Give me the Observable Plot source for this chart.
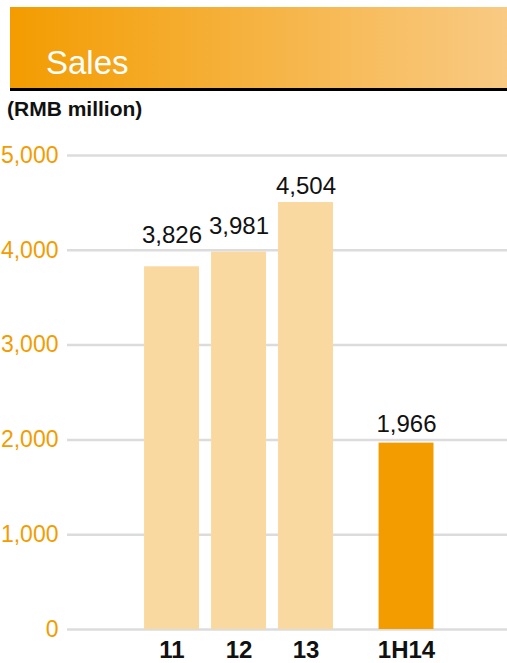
<!DOCTYPE html>
<html>
<head>
<meta charset="utf-8">
<script src="https://cdn.jsdelivr.net/npm/d3@7"></script>
<script src="https://cdn.jsdelivr.net/npm/@observablehq/plot@0.6"></script>
<style>
  html, body { margin: 0; padding: 0; background: #fff; }
  body { width: 507px; height: 663px; position: relative; overflow: hidden; font-family: "Liberation Sans", Arial, Helvetica, sans-serif; }
  #header { position: absolute; left: 10px; top: 7px; width: 497px; height: 81px;
    background: linear-gradient(to right, #f39c00, #f9ca84); border-bottom: 3px solid #000; }
  #title { position: absolute; left: 46px; top: 44px; font-size: 33px; color: #fff; line-height: normal; white-space: nowrap; }
  #unit { position: absolute; left: 7px; top: 97px; font-size: 21px; font-weight: bold; color: #111; line-height: normal; white-space: nowrap; }
  #chart { position: absolute; left: 0; top: 120px; }
  #chart svg { overflow: visible; }
</style>
</head>
<body>
<div id="header"></div>
<div id="title">Sales</div>
<div id="unit">(RMB million)</div>
<div id="chart"></div>
<script>
const categories = ["11", "12", "13", "1H14"];
const sales = [3826, 3981, 4504, 1966];
const yTicks = [0, 1000, 2000, 3000, 4000, 5000];
const highlight = "1H14";

// layout: a half-step gap separates the half-year bar from the full years
const positions = categories.map((c, i) => i + (i >= 3 ? 0.5 : 0));
const data = categories.map((c, i) => ({cat: c, value: sales[i], pos: positions[i]}));
const labelOf = new Map(positions.map((p, i) => [p, categories[i]]));
const labelDy = [-24, -18, -9, -11];
const halfWidth = 0.41;

const light = "#fad9a1";
const orange = "#f39c00";

const plot = Plot.plot({
  width: 507,
  height: 543,
  marginTop: 35,
  marginBottom: 34,
  marginLeft: 67,
  marginRight: 0,
  style: {fontFamily: "'Liberation Sans', Arial, Helvetica, sans-serif", background: "transparent", overflow: "visible"},
  x: {type: "linear", domain: [-1.56, 5.007], axis: null},
  y: {domain: [0, 5000], axis: null},
  color: {type: "identity"},
  marks: [
    Plot.ruleY(yTicks, {stroke: "#dcdcdc", strokeWidth: 2.5}),
    Plot.rectY(data, {
      x1: d => d.pos - halfWidth,
      x2: d => d.pos + halfWidth,
      y1: 0,
      y2: "value",
      fill: d => d.cat === highlight ? orange : light
    }),
    ...data.map((d, i) => Plot.text([d], {
      x: "pos", y: "value", text: v => d3.format(",")(v.value),
      lineAnchor: "bottom", dy: labelDy[i], fontSize: 24, fill: "#111"
    })),
    Plot.axisY({
      ticks: yTicks, tickSize: 0, tickPadding: 9, tickFormat: d3.format(","),
      fontSize: 23, fill: orange, label: null
    }),
    Plot.axisX({
      ticks: positions, tickSize: 0, tickPadding: 11, tickFormat: p => labelOf.get(p),
      fontSize: 24, fontWeight: "bold", fill: "#111", label: null
    })
  ]
});
document.getElementById("chart").appendChild(plot);
</script>
</body>
</html>
